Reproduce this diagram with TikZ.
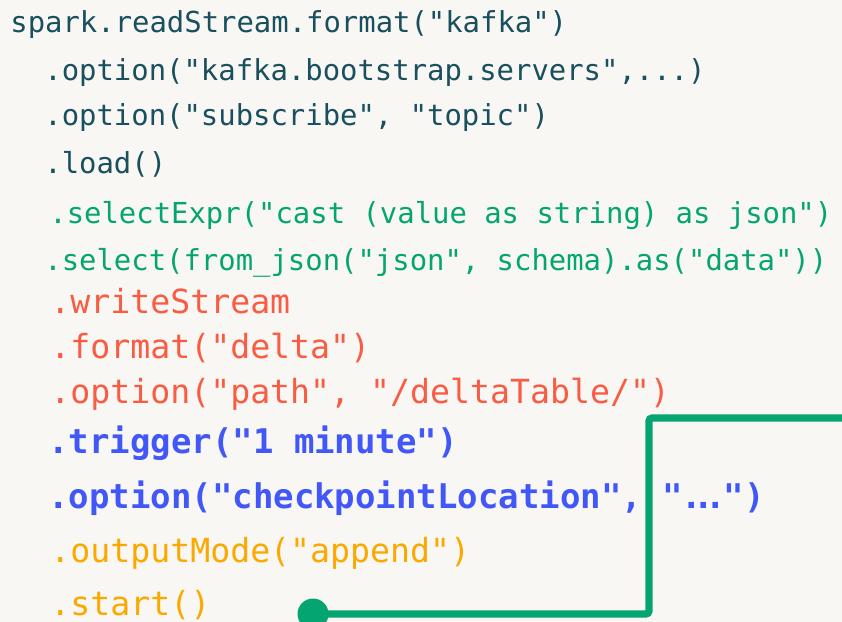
\documentclass[tikz,border=0pt]{standalone}
\usepackage{fontspec}
\usepackage{xcolor}
\usepackage{tikz}
\newfontfamily\codefont{DejaVu Sans Mono}
\definecolor{bg}{HTML}{F8F7F4}
\definecolor{teal}{HTML}{1A4F5E}
\definecolor{green}{HTML}{05A571}
\definecolor{red}{HTML}{FA5B43}
\definecolor{blue}{HTML}{4157F7}
\definecolor{orange}{HTML}{FBA900}
\tikzset{
  code/.style={anchor=base west, inner sep=0pt, font=\codefont\fontsize{14.45}{17}\selectfont},
  codebig/.style={anchor=base west, inner sep=0pt, font=\codefont\fontsize{16.6}{20}\selectfont},
  readc/.style={code, text=teal},
  parsec/.style={code, text=green},
  writec/.style={codebig, text=red},
  trigc/.style={codebig, text=blue, font=\codefont\bfseries\fontsize{17}{20}\selectfont},
  startc/.style={codebig, text=orange},
  link/.style={draw=green, line width=3.6pt, rounded corners=1.5pt},
  pin/.style={circle, fill=green, inner sep=0pt, minimum size=15.5pt},
}
% tight dots, as in the slide
\newcommand{\tightdots}{\makebox[20.5pt]{.\kern-4.2pt.\kern-4.2pt.}}

\begin{document}
\begin{tikzpicture}[x=0.5pt,y=-0.5pt]
  \fill[bg] (0,0) rectangle (842,622);
  \useasboundingbox (0,0) rectangle (842,622);

  % reading from kafka
  \node[readc] (l1) at (10,32) {spark.readStream.format("kafka")};
  \node[readc] (l2) at (44,80) {.option("kafka.bootstrap.servers",...)};
  \node[readc] (l3) at (44,125) {.option("subscribe", "topic")};
  \node[readc] (l4) at (44,173) {.load()};

  \node[parsec] (l5) at (49,223) {.selectExpr("cast (value as string) as json")};
  \node[parsec] (l6) at (44,270) {.select(from\_json("json", schema).as("data"))};

  % writing to delta
  \node[writec] (l7) at (50,313) {.writeStream};
  \node[writec] (l8) at (50,358) {.format("delta")};
  \node[writec] (l9) at (50,403) {.option("path", "/deltaTable/")};

  \node[trigc] (l10) at (48,453) {.trigger("1 minute")};
  \node[trigc] (l11) at (48,508) {.option("checkpointLocation", "\tightdots")};

  \node[startc] (l12) at (50,562) {.outputMode("append")};
  \node[startc] (l13) at (50,615) {.start()};

  \coordinate (riser) at (649,418);
  \coordinate (edge) at (850,418);
  \node[pin] (dot) at (313,614) {};
  \draw[link] (dot.center) -| (riser) -- (edge);
\end{tikzpicture}
\end{document}
